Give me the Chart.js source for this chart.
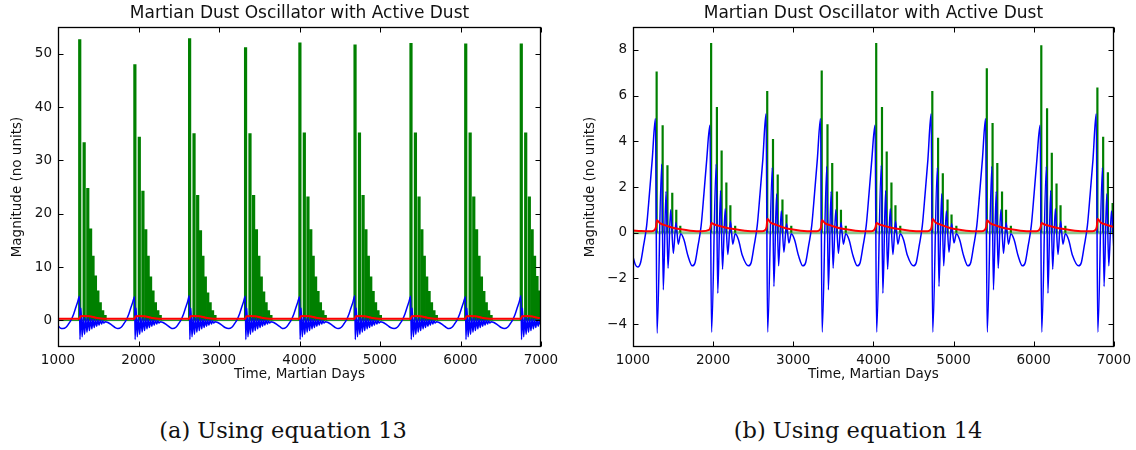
<!DOCTYPE html>
<html>
<head>
<meta charset="utf-8">
<script src="https://cdn.jsdelivr.net/npm/chart.js@4.4.0/dist/chart.umd.min.js"></script>
<style>
  body { margin: 0; background: #fff; width: 1136px; height: 450px; position: relative; overflow: hidden; }
  .plot { position: absolute; top: 0; width: 568px; height: 392px; }
  .caption { position: absolute; top: 419px; width: 400px; text-align: center;
             font-family: "DejaVu Serif", serif; font-size: 22.5px; color: #111; line-height: 23px; }
</style>
</head>
<body>
<div class="plot" style="left:0"><canvas id="chartA"></canvas></div>
<div class="plot" style="left:568px"><canvas id="chartB"></canvas></div>
<div class="caption" style="left:83px">(a) Using equation 13</div>
<div class="caption" style="left:658px">(b) Using equation 14</div>
<script>
// ---- tick values ----
const xTicks = [1000, 2000, 3000, 4000, 5000, 6000, 7000];
const yTicksA = [0, 10, 20, 30, 40, 50];
const yTicksB = [-4, -2, 0, 2, 4, 6, 8];

// ---- (a) equation 13 ----
// green dust spikes: day of each spike and its height
const dustDaysA = [1000,
  1270, 1325, 1370, 1405, 1435, 1465, 1495, 1525, 1555, 1585,
  1955, 2010, 2055, 2090, 2120, 2150, 2180, 2210, 2240, 2270,
  2635, 2690, 2735, 2770, 2800, 2830, 2860, 2890, 2920, 2950,
  3330, 3385, 3430, 3465, 3495, 3525, 3555, 3585, 3615, 3645,
  4005, 4060, 4105, 4140, 4170, 4200, 4230, 4260, 4290, 4320,
  4690, 4745, 4790, 4825, 4855, 4885, 4915, 4945, 4975, 5005,
  5385, 5440, 5485, 5520, 5550, 5580, 5610, 5640, 5670, 5700,
  6065, 6120, 6165, 6200, 6230, 6260, 6290, 6320, 6350, 6380,
  6755, 6810, 6855, 6890, 6920, 6950, 6980, 7000];
const dustHeightsA = [0,
  52.7, 33.4, 24.8, 17.2, 12.1, 8.4, 5.6, 3.4, 1.9, 1.0,
  48.0, 34.4, 24.3, 17.1, 12.1, 8.2, 5.6, 3.4, 1.9, 1.0,
  52.9, 35.1, 23.5, 16.9, 12.1, 8.2, 5.2, 3.4, 1.9, 1.0,
  51.2, 35.1, 23.5, 17.1, 12.1, 8.2, 5.4, 3.4, 1.9, 1.0,
  52.1, 35.2, 23.2, 17.1, 12.1, 8.2, 5.5, 3.4, 1.9, 1.0,
  51.7, 35.2, 23.5, 17.1, 12.1, 8.2, 5.5, 3.4, 1.9, 1.0,
  52.0, 35.2, 23.2, 17.1, 12.1, 8.2, 5.5, 3.4, 1.9, 1.0,
  51.9, 35.2, 23.2, 17.1, 12.1, 8.2, 5.5, 3.4, 1.9, 1.0,
  51.9, 35.2, 23.2, 17.1, 12.1, 8.3, 5.6, 0];

// blue oscillator [day, value]
const oscA = [
  [1000,-1.0],[1030,-1.45],[1060,-1.55],[1100,-1.3],[1135,-0.6],[1160,0.0],[1195,1.2],[1223,2.5],[1245,3.5],[1267,4.5],
  [1273,-3.6],[1285,2.3],[1300,-3.1],[1315,0.6],[1330,-2.6],[1345,0.5],[1360,-2.2],[1375,0.4],[1390,-1.9],[1405,0.3],
  [1420,-1.6],[1435,0.2],[1450,-1.35],[1465,0.1],[1480,-1.1],[1495,0.05],[1510,-0.9],[1525,0],[1540,-0.7],[1555,-0.1],
  [1570,-0.5],[1585,-0.25],[1620,-0.4],[1670,-0.9],[1710,-1.35],
  [1745,-1.55],[1785,-1.3],[1820,-0.6],[1845,0.0],[1880,1.2],[1908,2.5],[1930,3.5],[1952,4.4],
  [1958,-3.6],[1970,2.3],[1985,-3.1],[2000,0.6],[2015,-2.6],[2030,0.5],[2045,-2.2],[2060,0.4],[2075,-1.9],[2090,0.3],
  [2105,-1.6],[2120,0.2],[2135,-1.35],[2150,0.1],[2165,-1.1],[2180,0.05],[2195,-0.9],[2210,0],[2225,-0.7],[2240,-0.1],
  [2255,-0.5],[2270,-0.25],[2305,-0.4],[2355,-0.9],[2395,-1.35],
  [2425,-1.55],[2465,-1.3],[2500,-0.6],[2525,0.0],[2560,1.2],[2588,2.5],[2610,3.5],[2632,4.6],
  [2638,-3.6],[2650,2.3],[2665,-3.1],[2680,0.6],[2695,-2.6],[2710,0.5],[2725,-2.2],[2740,0.4],[2755,-1.9],[2770,0.3],
  [2785,-1.6],[2800,0.2],[2815,-1.35],[2830,0.1],[2845,-1.1],[2860,0.05],[2875,-0.9],[2890,0],[2905,-0.7],[2920,-0.1],
  [2935,-0.5],[2950,-0.25],[2985,-0.4],[3035,-0.9],[3075,-1.35],
  [3120,-1.55],[3160,-1.3],[3195,-0.6],[3220,0.0],[3255,1.2],[3283,2.5],[3305,3.5],[3327,4.5],
  [3333,-3.6],[3345,2.3],[3360,-3.1],[3375,0.6],[3390,-2.6],[3405,0.5],[3420,-2.2],[3435,0.4],[3450,-1.9],[3465,0.3],
  [3480,-1.6],[3495,0.2],[3510,-1.35],[3525,0.1],[3540,-1.1],[3555,0.05],[3570,-0.9],[3585,0],[3600,-0.7],[3615,-0.1],
  [3630,-0.5],[3645,-0.25],[3680,-0.4],[3730,-0.9],[3770,-1.35],
  [3795,-1.55],[3835,-1.3],[3870,-0.6],[3895,0.0],[3930,1.2],[3958,2.5],[3980,3.5],[4002,4.4],
  [4008,-3.6],[4020,2.3],[4035,-3.1],[4050,0.6],[4065,-2.6],[4080,0.5],[4095,-2.2],[4110,0.4],[4125,-1.9],[4140,0.3],
  [4155,-1.6],[4170,0.2],[4185,-1.35],[4200,0.1],[4215,-1.1],[4230,0.05],[4245,-0.9],[4260,0],[4275,-0.7],[4290,-0.1],
  [4305,-0.5],[4320,-0.25],[4355,-0.4],[4405,-0.9],[4445,-1.35],
  [4480,-1.55],[4520,-1.3],[4555,-0.6],[4580,0.0],[4615,1.2],[4643,2.5],[4665,3.5],[4687,4.6],
  [4693,-3.6],[4705,2.3],[4720,-3.1],[4735,0.6],[4750,-2.6],[4765,0.5],[4780,-2.2],[4795,0.4],[4810,-1.9],[4825,0.3],
  [4840,-1.6],[4855,0.2],[4870,-1.35],[4885,0.1],[4900,-1.1],[4915,0.05],[4930,-0.9],[4945,0],[4960,-0.7],[4975,-0.1],
  [4990,-0.5],[5005,-0.25],[5040,-0.4],[5090,-0.9],[5130,-1.35],
  [5175,-1.55],[5215,-1.3],[5250,-0.6],[5275,0.0],[5310,1.2],[5338,2.5],[5360,3.5],[5382,4.5],
  [5388,-3.6],[5400,2.3],[5415,-3.1],[5430,0.6],[5445,-2.6],[5460,0.5],[5475,-2.2],[5490,0.4],[5505,-1.9],[5520,0.3],
  [5535,-1.6],[5550,0.2],[5565,-1.35],[5580,0.1],[5595,-1.1],[5610,0.05],[5625,-0.9],[5640,0],[5655,-0.7],[5670,-0.1],
  [5685,-0.5],[5700,-0.25],[5735,-0.4],[5785,-0.9],[5825,-1.35],
  [5855,-1.55],[5895,-1.3],[5930,-0.6],[5955,0.0],[5990,1.2],[6018,2.5],[6040,3.5],[6062,4.4],
  [6068,-3.6],[6080,2.3],[6095,-3.1],[6110,0.6],[6125,-2.6],[6140,0.5],[6155,-2.2],[6170,0.4],[6185,-1.9],[6200,0.3],
  [6215,-1.6],[6230,0.2],[6245,-1.35],[6260,0.1],[6275,-1.1],[6290,0.05],[6305,-0.9],[6320,0],[6335,-0.7],[6350,-0.1],
  [6365,-0.5],[6380,-0.25],[6415,-0.4],[6465,-0.9],[6505,-1.35],
  [6545,-1.55],[6585,-1.3],[6620,-0.6],[6645,0.0],[6680,1.2],[6708,2.5],[6730,3.5],[6752,4.6],
  [6758,-3.6],[6770,2.3],[6785,-3.1],[6800,0.6],[6815,-2.6],[6830,0.5],[6845,-2.2],[6860,0.4],[6875,-1.9],[6890,0.3],
  [6905,-1.6],[6920,0.2],[6935,-1.35],[6950,0.1],[6965,-1.1],[6980,0.05],[6995,-0.9],[7010,0]
];

// red smoothed level [day, value]
const levelA = [
  [1000,0.28],[1265,0.28],[1280,0.75],[1330,0.8],[1390,0.75],[1470,0.5],[1570,0.3],
  [1950,0.28],[1965,0.75],[2015,0.8],[2075,0.75],[2155,0.5],[2255,0.3],
  [2630,0.28],[2645,0.75],[2695,0.8],[2755,0.75],[2835,0.5],[2935,0.3],
  [3325,0.28],[3340,0.75],[3390,0.8],[3450,0.75],[3530,0.5],[3630,0.3],
  [4000,0.28],[4015,0.75],[4065,0.8],[4125,0.75],[4205,0.5],[4305,0.3],
  [4685,0.28],[4700,0.75],[4750,0.8],[4810,0.75],[4890,0.5],[4990,0.3],
  [5380,0.28],[5395,0.75],[5445,0.8],[5505,0.75],[5585,0.5],[5685,0.3],
  [6060,0.28],[6075,0.75],[6125,0.8],[6185,0.75],[6265,0.5],[6365,0.3],
  [6750,0.28],[6765,0.75],[6815,0.8],[6875,0.75],[6955,0.5],[7000,0.42]
];

// ---- (b) equation 14 ----
const dustDaysB = [1000,
  1295, 1370, 1430, 1490, 1540, 1590,
  1975, 2047, 2106, 2165, 2215, 2275,
  2675, 2747, 2806, 2865, 2915, 2975,
  3355, 3427, 3486, 3545, 3595, 3655,
  4035, 4107, 4166, 4225, 4275, 4335,
  4735, 4807, 4866, 4925, 4975, 5035,
  5415, 5487, 5546, 5605, 5655, 5715,
  6095, 6167, 6226, 6285, 6335, 6395,
  6795, 6867, 6926, 6985, 7000];
const dustHeightsB = [0,
  7.05, 4.7, 2.95, 1.75, 1.0, 0.3,
  8.3, 5.5, 3.6, 2.2, 1.2, 0.3,
  6.2, 4.1, 2.55, 1.45, 0.8, 0.3,
  7.1, 4.75, 3.05, 1.8, 1.0, 0.3,
  8.3, 5.5, 3.55, 2.2, 1.2, 0.3,
  6.2, 4.15, 2.6, 1.45, 0.8, 0.3,
  7.2, 4.8, 3.05, 1.8, 1.0, 0.3,
  8.2, 5.45, 3.5, 2.15, 1.2, 0.3,
  6.35, 4.2, 2.65, 1.3, 0];

const oscB = [
  [1000,-1.05],[1030,-1.4],[1060,-1.5],[1095,-1.3],[1130,-0.6],[1170,0.3],[1205,1.7],[1240,3.2],[1280,5.0],
  [1300,-4.4],[1358,3.0],[1378,-2.5],[1412,1.8],[1437,-1.55],[1470,1.0],[1503,-0.9],[1536,0.45],[1565,-0.5],
  [1595,-0.05],[1635,-0.3],[1685,-1.0],[1740,-1.45],[1775,-1.3],[1810,-0.6],[1850,0.3],[1885,1.7],[1920,3.2],[1960,4.7],
  [1980,-4.35],[2038,3.0],[2058,-2.65],[2092,1.85],[2117,-1.6],[2150,1.05],[2183,-0.95],[2216,0.5],[2245,-0.5],
  [2275,-0.05],[2315,-0.3],[2365,-1.0],[2440,-1.45],[2475,-1.3],[2510,-0.6],[2550,0.3],[2585,1.7],[2620,3.2],[2660,5.2],
  [2680,-4.35],[2738,2.85],[2758,-2.35],[2792,1.7],[2817,-1.45],[2850,0.95],[2883,-0.85],[2916,0.4],[2945,-0.45],
  [2975,-0.05],[3015,-0.3],[3065,-1.0],[3120,-1.45],[3155,-1.3],[3190,-0.6],[3230,0.3],[3265,1.7],[3300,3.2],[3340,5.0],
  [3360,-4.35],[3418,2.9],[3438,-2.5],[3472,1.8],[3497,-1.55],[3530,1.0],[3563,-0.9],[3596,0.45],[3625,-0.5],
  [3655,-0.05],[3695,-0.3],[3745,-1.0],[3800,-1.45],[3835,-1.3],[3870,-0.6],[3910,0.3],[3945,1.7],[3980,3.2],[4020,4.7],
  [4040,-4.35],[4098,2.95],[4118,-2.65],[4152,1.85],[4177,-1.6],[4210,1.05],[4243,-0.95],[4276,0.5],[4305,-0.5],
  [4335,-0.05],[4375,-0.3],[4425,-1.0],[4500,-1.45],[4535,-1.3],[4570,-0.6],[4610,0.3],[4645,1.7],[4680,3.2],[4720,5.2],
  [4740,-4.35],[4798,2.85],[4818,-2.35],[4852,1.7],[4877,-1.45],[4910,0.95],[4943,-0.85],[4976,0.4],[5005,-0.45],
  [5035,-0.05],[5075,-0.3],[5125,-1.0],[5180,-1.45],[5215,-1.3],[5250,-0.6],[5290,0.3],[5325,1.7],[5360,3.2],[5400,5.0],
  [5420,-4.35],[5478,2.9],[5498,-2.5],[5532,1.8],[5557,-1.55],[5590,1.0],[5623,-0.9],[5656,0.45],[5685,-0.5],
  [5715,-0.05],[5755,-0.3],[5805,-1.0],[5860,-1.45],[5895,-1.3],[5930,-0.6],[5970,0.3],[6005,1.7],[6040,3.2],[6080,4.7],
  [6100,-4.35],[6158,2.9],[6178,-2.65],[6212,1.85],[6237,-1.6],[6270,1.05],[6303,-0.95],[6336,0.5],[6365,-0.5],
  [6395,-0.05],[6435,-0.3],[6485,-1.0],[6560,-1.45],[6595,-1.3],[6630,-0.6],[6670,0.3],[6705,1.7],[6740,3.2],[6780,5.2],
  [6800,-4.35],[6858,2.85],[6878,-2.35],[6912,1.7],[6937,-1.45],[6970,0.95],[7003,-0.85]
];

const levelB = [
  [1000,0.1],[1100,0.07],[1235,0.06],[1270,0.12],[1287,0.25],[1298,0.55],[1335,0.42],[1395,0.33],[1495,0.22],[1595,0.15],[1715,0.09],[1855,0.06],
  [1950,0.12],[1967,0.25],[1978,0.42],[2015,0.36],[2075,0.3],[2175,0.21],[2275,0.15],[2395,0.09],[2535,0.06],
  [2615,0.06],[2650,0.12],[2667,0.25],[2678,0.6],[2715,0.45],[2775,0.36],[2875,0.23],[2975,0.15],[3095,0.09],[3235,0.06],
  [3295,0.06],[3330,0.12],[3347,0.25],[3358,0.55],[3395,0.42],[3455,0.33],[3555,0.22],[3655,0.15],[3775,0.09],[3915,0.06],
  [3975,0.06],[4010,0.12],[4027,0.25],[4038,0.42],[4075,0.36],[4135,0.3],[4235,0.21],[4335,0.15],[4455,0.09],[4595,0.06],
  [4675,0.06],[4710,0.12],[4727,0.25],[4738,0.6],[4775,0.45],[4835,0.36],[4935,0.23],[5035,0.15],[5155,0.09],[5295,0.06],
  [5355,0.06],[5390,0.12],[5407,0.25],[5418,0.55],[5455,0.42],[5515,0.33],[5615,0.22],[5715,0.15],[5835,0.09],[5975,0.06],
  [6035,0.06],[6070,0.12],[6087,0.25],[6098,0.42],[6135,0.36],[6195,0.3],[6295,0.21],[6395,0.15],[6515,0.09],[6655,0.06],
  [6735,0.06],[6770,0.12],[6787,0.25],[6798,0.6],[6835,0.45],[6895,0.36],[7000,0.25]
];

// ---- helpers ----
Chart.defaults.font.family = "DejaVu Sans";
Chart.defaults.color = "#111";

const toXY = arr => arr.map(p => ({x: p[0], y: p[1]}));
// each dust spike rises from the zero line and falls back to it
function spikes(days, heights) {
  const pts = [];
  days.forEach((d, i) => {
    pts.push({x: d, y: 0});
    if (heights[i] !== 0) pts.push({x: d, y: heights[i]}, {x: d, y: 0});
  });
  return pts;
}
const fmt = v => (v < 0 ? "\u2212" + Math.abs(v) : String(v));

// matplotlib-like frame with inward ticks on all four sides
const framePlugin = {
  id: "frame",
  afterDatasetsDraw(chart) {
    const {ctx, chartArea: a, scales} = chart;
    const L = Math.round(a.left) + 0.5, R = Math.round(a.right) - 0.5;
    const T = Math.round(a.top) + 0.5, B = Math.round(a.bottom) - 0.5;
    ctx.save();
    ctx.strokeStyle = "#000";
    ctx.lineWidth = 1;
    ctx.beginPath();
    scales.x.ticks.forEach(t => {
      const px = Math.round(scales.x.getPixelForValue(t.value)) + 0.5;
      ctx.moveTo(px, B); ctx.lineTo(px, B - 5);
      ctx.moveTo(px, T); ctx.lineTo(px, T + 5);
    });
    scales.y.ticks.forEach(t => {
      const py = Math.round(scales.y.getPixelForValue(t.value)) + 0.5;
      ctx.moveTo(L, py); ctx.lineTo(L + 5, py);
      ctx.moveTo(R, py); ctx.lineTo(R - 5, py);
    });
    ctx.stroke();
    ctx.lineWidth = 1.3;
    ctx.strokeRect(L, T, R - L, B - T);
    ctx.restore();
  }
};

function buildChart(id, o) {
  const baseline = ctx => (ctx.p0.parsed.y === 0 && ctx.p1.parsed.y === 0);
  return new Chart(document.getElementById(id).getContext("2d"), {
    type: "line",
    data: {
      datasets: [
        {
          label: "dust", data: spikes(o.dustDays, o.dustHeights), order: 3,
          borderColor: "#008000", borderWidth: o.spikeWidth, borderJoinStyle: "bevel",
          segment: {
            borderColor: c => baseline(c) ? o.baseColor : undefined,
            borderWidth: c => baseline(c) ? o.baseWidth : undefined
          }
        },
        {
          label: "oscillator", data: toXY(o.osc), order: 2,
          borderColor: "#0000ff", borderWidth: 1.5, cubicInterpolationMode: "monotone"
        },
        {
          label: "level", data: toXY(o.level), order: 1,
          borderColor: "#ff0000", borderWidth: 2, cubicInterpolationMode: "monotone"
        }
      ]
    },
    options: {
      responsive: true, maintainAspectRatio: false, animation: false,
      events: [],
      layout: { padding: { left: 0, right: o.padRight, top: 0, bottom: 0 } },
      elements: { point: { radius: 0 } },
      plugins: {
        legend: { display: false },
        tooltip: { enabled: false },
        title: {
          display: true, fullSize: false,
          text: "Martian Dust Oscillator with Active Dust",
          color: "#111", font: { size: 17, weight: "normal" },
          padding: { top: 3, bottom: 3.6 }
        }
      },
      scales: {
        x: {
          type: "linear", min: 1000, max: 7000, offset: false,
          grid: { display: false, drawTicks: false }, border: { display: false },
          afterBuildTicks: s => { s.ticks = xTicks.map(v => ({value: v})); },
          afterFit: s => { s.height = 45; },
          ticks: { padding: 5, autoSkip: false, maxRotation: 0, font: { size: 13.5 }, callback: fmt },
          title: { display: true, text: "Time, Martian Days", font: { size: 13.5 }, padding: { top: 0, bottom: 9 } }
        },
        y: {
          type: "linear", min: o.yMin, max: o.yMax,
          grid: { display: false, drawTicks: false }, border: { display: false },
          afterBuildTicks: s => { s.ticks = o.yTicks.map(v => ({value: v})); },
          afterFit: s => { s.width = o.yWidth; },
          ticks: { padding: 6, autoSkip: false, font: { size: 13.5 }, callback: fmt },
          title: { display: true, text: "Magnitude (no units)", font: { size: 13.5 }, padding: { top: o.yTitlePad, bottom: 0 } }
        }
      }
    },
    plugins: [framePlugin]
  });
}

buildChart("chartA", {
  dustDays: dustDaysA, dustHeights: dustHeightsA, osc: oscA, level: levelA,
  yMin: -5, yMax: 55, yTicks: yTicksA, yWidth: 58, padRight: 27, yTitlePad: 9,
  spikeWidth: 3.2, baseColor: "rgba(0,128,0,0.85)", baseWidth: 1.5
});
buildChart("chartB", {
  dustDays: dustDaysB, dustHeights: dustHeightsB, osc: oscB, level: levelB,
  yMin: -5, yMax: 9, yTicks: yTicksB, yWidth: 65, padRight: 22, yTitlePad: 14,
  spikeWidth: 2.2, baseColor: "rgba(0,128,0,0.45)", baseWidth: 3
});
</script>
</body>
</html>
